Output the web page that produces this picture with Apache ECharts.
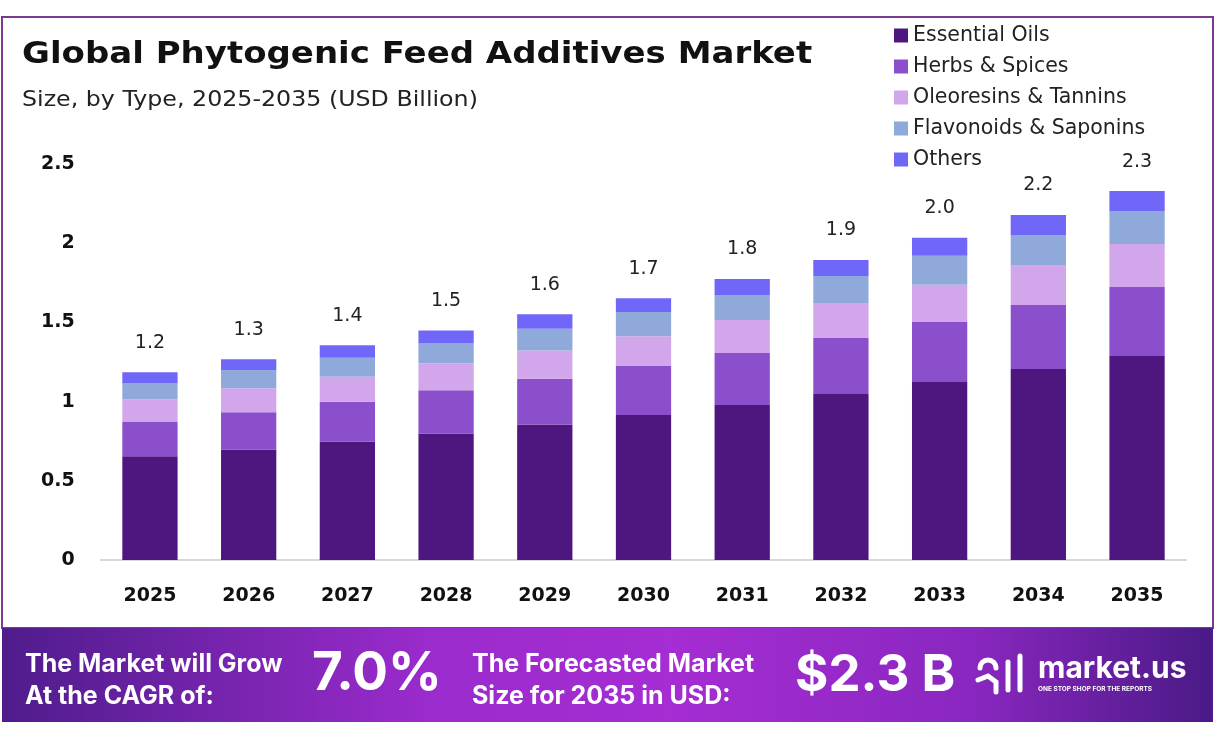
<!DOCTYPE html>
<html>
<head>
<meta charset="utf-8">
<script src="https://cdn.jsdelivr.net/npm/echarts@6/dist/echarts.min.js"></script>
<style>
html,body{margin:0;padding:0;background:#fff;}
#chart{width:1218px;height:738px;}
</style>
</head>
<body>
<div id="chart"></div>
<script>
const categories = ['2025','2026','2027','2028','2029','2030','2031','2032','2033','2034','2035'];
const essentialOils = [0.655,0.698,0.748,0.799,0.855,0.915,0.979,1.048,1.124,1.206,1.288];
const herbsSpices = [0.219,0.234,0.251,0.273,0.289,0.309,0.328,0.354,0.379,0.404,0.436];
const oleoresinsTannins = [0.139,0.153,0.158,0.169,0.179,0.189,0.208,0.221,0.234,0.253,0.271];
const flavonoidsSaponins = [0.101,0.114,0.120,0.126,0.137,0.152,0.158,0.170,0.183,0.189,0.208];
const others = [0.071,0.068,0.078,0.082,0.092,0.088,0.101,0.101,0.114,0.126,0.126];
const totalLabels = ['1.2','1.3','1.4','1.5','1.6','1.7','1.8','1.9','2.0','2.2','2.3'];
const yTicks = [0, 0.5, 1, 1.5, 2, 2.5];

const seriesNames = ['Essential Oils','Herbs & Spices','Oleoresins & Tannins','Flavonoids & Saponins','Others'];
const seriesData = [essentialOils, herbsSpices, oleoresinsTannins, flavonoidsSaponins, others];
const colors = ['#4e1780','#8b4fcc','#d2a6ea','#8fa9da','#7066f7'];

const chart = echarts.init(document.getElementById('chart'));
const FONT = '"DejaVu Sans", sans-serif';
const FONT2 = 'Inter, "Noto Sans", sans-serif';

const series = seriesNames.map((name, i) => ({
  name: name,
  type: 'bar',
  stack: 'total',
  barWidth: '56%',
  data: seriesData[i],
  itemStyle: { color: colors[i] },
  label: i === seriesNames.length - 1 ? {
    show: true,
    position: 'top',
    distance: 20,
    fontFamily: FONT,
    fontSize: 19,
    color: '#222',
    formatter: p => totalLabels[p.dataIndex]
  } : { show: false }
}));

chart.setOption({
  backgroundColor: '#fff',
  animation: false,
  color: colors,
  legend: {
    orient: 'vertical',
    left: 889,
    top: 20,
    itemWidth: 14,
    itemHeight: 14,
    itemGap: 10,
    icon: 'rect',
    textStyle: { fontFamily: FONT, fontSize: 20.5, color: '#222', padding: [0,0,0,0] },
    data: seriesNames
  },
  grid: { left: 100.6, right: 31.6, top: 164, bottom: 178 },
  xAxis: {
    type: 'category',
    data: categories,
    axisLine: { lineStyle: { color: '#cccccc', width: 1.5 } },
    axisTick: { show: false },
    axisLabel: { margin: 27, fontFamily: FONT, fontWeight: 'bold', fontSize: 19, color: '#111' }
  },
  yAxis: {
    type: 'value',
    min: yTicks[0],
    max: yTicks[yTicks.length - 1],
    interval: 0.5,
    splitLine: { show: false },
    axisLine: { show: false },
    axisTick: { show: false },
    axisLabel: { margin: 26, fontFamily: FONT, fontWeight: 'bold', fontSize: 19, color: '#111' }
  },
  series: series,
  graphic: [
    { type: 'rect', shape: { x: 2, y: 17, width: 1211, height: 611 }, style: { fill: 'none', stroke: '#7a3a92', lineWidth: 2 }, z: 0 },
    { type: 'text', x: 22, y: 40, scaleX: 1.133, style: { text: 'Global Phytogenic Feed Additives Market', font: 'bold 30px ' + FONT, fill: '#111' } },
    { type: 'text', x: 22, y: 90, scaleX: 1.13, style: { text: 'Size, by Type, 2025-2035 (USD Billion)', font: '21px ' + FONT, fill: '#222' } },
    { type: 'rect', shape: { x: 2, y: 628, width: 1211, height: 94 },
      style: { fill: new echarts.graphic.LinearGradient(0,0,1,0,[
        {offset:0,color:'#4f1c8c'},{offset:0.35,color:'#9a2bcc'},{offset:0.55,color:'#a52dd3'},{offset:0.8,color:'#8a27c0'},{offset:1,color:'#4a1a86'}]) } },
    { type: 'text', left: 25, top: 648, style: { text: 'The Market will Grow\nAt the CAGR of:', font: 'bold 25px ' + FONT2, fill: '#fff', lineHeight: 32 } },
    { type: 'text', left: 312, top: 648, style: { text: '7.0%', font: 'bold 53px ' + FONT2, fill: '#fff', shadowColor: 'rgba(0,0,0,0.35)', shadowOffsetX: 2, shadowOffsetY: 2, shadowBlur: 3 } },
    { type: 'text', left: 472, top: 648, style: { text: 'The Forecasted Market\nSize for 2035 in USD:', font: 'bold 25px ' + FONT2, fill: '#fff', lineHeight: 32 } },
    { type: 'text', left: 795, top: 650, style: { text: '$2.3 B', font: 'bold 51px ' + FONT2, fill: '#fff', shadowColor: 'rgba(0,0,0,0.35)', shadowOffsetX: 2, shadowOffsetY: 2, shadowBlur: 3 } },
    { type: 'arc', shape: { cx: 988, cy: 668, r: 8, startAngle: Math.PI, endAngle: 2*Math.PI }, style: { stroke: '#fff', lineWidth: 5, fill: 'none', lineCap: 'round' } },
    { type: 'polyline', shape: { points: [[978,680],[988,676],[996,682],[996,692]] }, style: { stroke: '#fff', lineWidth: 5, fill: 'none', lineCap: 'round' } },
    { type: 'line', shape: { x1: 1008, y1: 662, x2: 1008, y2: 690 }, style: { stroke: '#fff', lineWidth: 5, lineCap: 'round' } },
    { type: 'line', shape: { x1: 1020, y1: 656, x2: 1020, y2: 690 }, style: { stroke: '#fff', lineWidth: 5, lineCap: 'round' } },
    { type: 'text', left: 1038, top: 654, style: { text: 'market.us', font: 'bold 30px ' + FONT2, fill: '#fff' } },
    { type: 'text', left: 1038, top: 686, style: { text: 'ONE STOP SHOP FOR THE REPORTS', font: 'bold 6.5px ' + FONT2, fill: '#fff' } }
  ]
});
</script>
</body>
</html>
